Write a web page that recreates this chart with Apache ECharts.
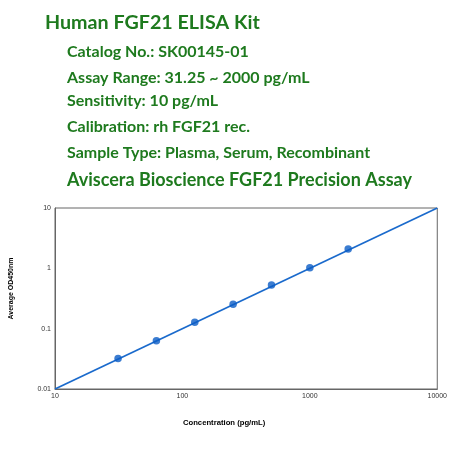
<!DOCTYPE html>
<html><head><meta charset="utf-8">
<script src="https://cdn.jsdelivr.net/npm/echarts@6/dist/echarts.min.js"></script>
<style>html,body{margin:0;padding:0;background:#fff}#c{width:450px;height:450px}</style>
</head><body><div id="c"></div>
<script>
const concentrations = [31.25, 62.5, 125, 250, 500, 1000, 2000];
const odValues = [0.032, 0.063, 0.128, 0.255, 0.53, 1.02, 2.1];
const fitLine = [[10, 0.01], [10000, 10]];
const titleText = 'Human FGF21 ELISA Kit';
const infoLines = ['Catalog No.: SK00145-01', 'Assay Range: 31.25 ~ 2000 pg/mL', 'Sensitivity: 10 pg/mL', 'Calibration: rh FGF21 rec.', 'Sample Type: Plasma, Serum, Recombinant'];
const subtitleText = 'Aviscera Bioscience FGF21 Precision Assay';
const xAxisName = 'Concentration (pg/mL)';
const yAxisName = 'Average OD450nm';

const green = '#1e7a1e';
const font = 'Lato';
const infoTops = [39, 65, 88, 114, 140];
const titles = [
  {text: titleText, left: 40, top: 8, textStyle: {fontFamily: font, fontWeight: 'bold', fontSize: 19.7, color: green}}
];
infoLines.forEach((t, i) => titles.push({text: t, left: 62, top: infoTops[i], textStyle: {fontFamily: font, fontWeight: 'bold', fontSize: 16, color: green}}));
titles.push({text: subtitleText, left: 62, top: 166, textStyle: {fontFamily: font, fontWeight: 'bold', fontSize: 18, color: green}});

const chart = echarts.init(document.getElementById('c'));
chart.setOption({
  animation: false,
  title: titles,
  grid: {left: 54, right: 10, top: 208, bottom: 61, show: true, borderColor: '#666', borderWidth: 1},
  xAxis: {
    type: 'log', logBase: 10, min: 10, max: 10000,
    name: xAxisName, nameLocation: 'middle', nameGap: 30,
    nameTextStyle: {fontFamily: 'Liberation Sans', fontSize: 7.7, color: '#000', fontWeight: 'bold', padding: [0, 44, 0, 0]},
    axisLine: {show: true, lineStyle: {color: '#666'}},
    axisTick: {show: false}, splitLine: {show: false}, minorTick: {show: false},
    axisLabel: {fontFamily: 'Liberation Sans', fontSize: 7, color: '#333', margin: 4,
      formatter: v => String(Math.round(v))}
  },
  yAxis: {
    type: 'log', logBase: 10, min: 0.01, max: 10,
    name: yAxisName, nameLocation: 'middle', nameGap: 40, nameRotate: 90,
    nameTextStyle: {fontFamily: 'Liberation Sans', fontSize: 7, color: '#000', fontWeight: 'bold', padding: [0, 0, 0, 20]},
    axisLine: {show: true, lineStyle: {color: '#666'}},
    axisTick: {show: false}, splitLine: {show: false},
    axisLabel: {fontFamily: 'Liberation Sans', fontSize: 7, color: '#333', margin: 4,
      formatter: v => String(+v.toPrecision(3))}
  },
  series: [
    {type: 'line', data: fitLine, symbol: 'none', lineStyle: {color: '#1a6acc', width: 1.7}, z: 2},
    {type: 'scatter', data: concentrations.map((c, i) => [c, odValues[i]]), symbol: 'circle', symbolSize: 7.5,
      itemStyle: {color: '#0b5cc6'}, z: 3}
  ]
});
</script></body></html>
